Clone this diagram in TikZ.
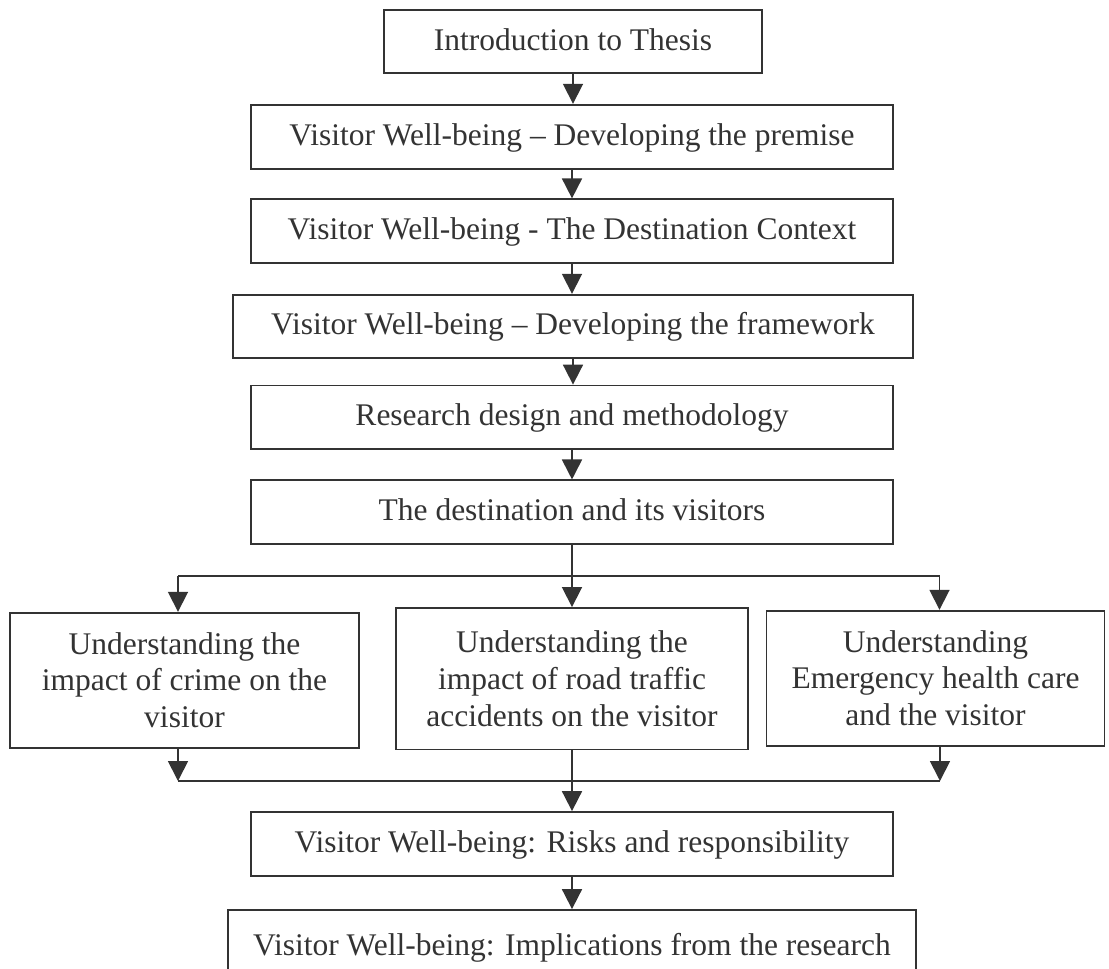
\documentclass[tikz,border=0pt]{standalone}
\usepackage{fontspec}
\setmainfont{Liberation Serif}
\usetikzlibrary{arrows.meta}
\definecolor{ink}{HTML}{333333}
\begin{document}
\begin{tikzpicture}[x=1pt,y=-1pt,
  box/.style={draw=ink, line width=1.8pt, inner sep=0pt, text=ink,
              font=\fontsize{31.5}{36.8}\selectfont},
  onebox/.style={box, text height=23pt, text depth=6pt},
  tallbox/.style={box, align=center},
  link/.style={draw=ink, line width=1.8pt},
  flow/.style={link, -{Triangle[length=20pt,width=20pt]}}
]
\useasboundingbox (0,0) rectangle (1109,969);
\clip (0,0) rectangle (1109,969);

% chapter sequence
\node[onebox, minimum width=378pt, minimum height=63pt] (intro) at (573,41.5) {Introduction to Thesis};
\node[onebox, minimum width=642pt, minimum height=64pt] (premise) at (572,136.7) {Visitor Well-being – Developing the premise};
\node[onebox, minimum width=642pt, minimum height=63.4pt] (context) at (572,231) {Visitor Well-being - The Destination Context};
\node[onebox, minimum width=680pt, minimum height=63pt] (frame) at (573,326.2) {Visitor Well-being – Developing the framework};
\node[onebox, minimum width=642pt, minimum height=63.8pt] (method) at (572,417.4) {Research design and methodology};
\node[onebox, minimum width=642pt, minimum height=63.7pt] (dest) at (572,512.2) {The destination and its visitors};

% three parallel studies
\node[tallbox, minimum width=349pt, minimum height=135pt] (crime) at (184.5,680.2) {Understanding the\\impact of crime on the\\visitor};
\node[tallbox, minimum width=352pt, minimum height=141.5pt] (road) at (572,678.7) {Understanding the\\impact of road traffic\\accidents on the visitor};
\node[tallbox, minimum width=338pt, minimum height=135pt] (emerg) at (935.5,678.2) {Understanding\\Emergency health care\\and the visitor};

% synthesis
\node[onebox, minimum width=642pt, minimum height=64pt] (risks) at (572,844) {Visitor Well-being: Risks and responsibility};
\node[onebox, minimum width=688pt, minimum height=74pt] (impl) at (572,947) {Visitor Well-being: Implications from the research};

% straight links
\draw[flow] (intro.south) -- (intro.south |- premise.north);
\draw[flow] (premise.south) -- (context.north);
\draw[flow] (context.south) -- (context.south |- frame.north);
\draw[flow] (frame.south) -- (frame.south |- method.north);
\draw[flow] (method.south) -- (dest.north);

% split into the three studies
\coordinate (sl) at (178,575.7);
\coordinate (sr) at (939.5,575.7);
\draw[link] (sl) -- (sr);
\draw[flow] (dest.south) -- (dest.south |- road.north);
\draw[flow] (sl) -- (sl |- crime.north);
\draw[flow] (sr) -- (sr |- emerg.north);

% merge back
\coordinate (ml) at (178,781);
\coordinate (mr) at (940,781);
\draw[link] (ml) -- (mr);
\draw[flow] (crime.south -| ml) -- (ml);
\draw[flow] (emerg.south -| mr) -- (mr);
\draw[flow] (road.south) -- (road.south |- risks.north);
\draw[flow] (risks.south) -- (risks.south |- impl.north);
\end{tikzpicture}
\end{document}
